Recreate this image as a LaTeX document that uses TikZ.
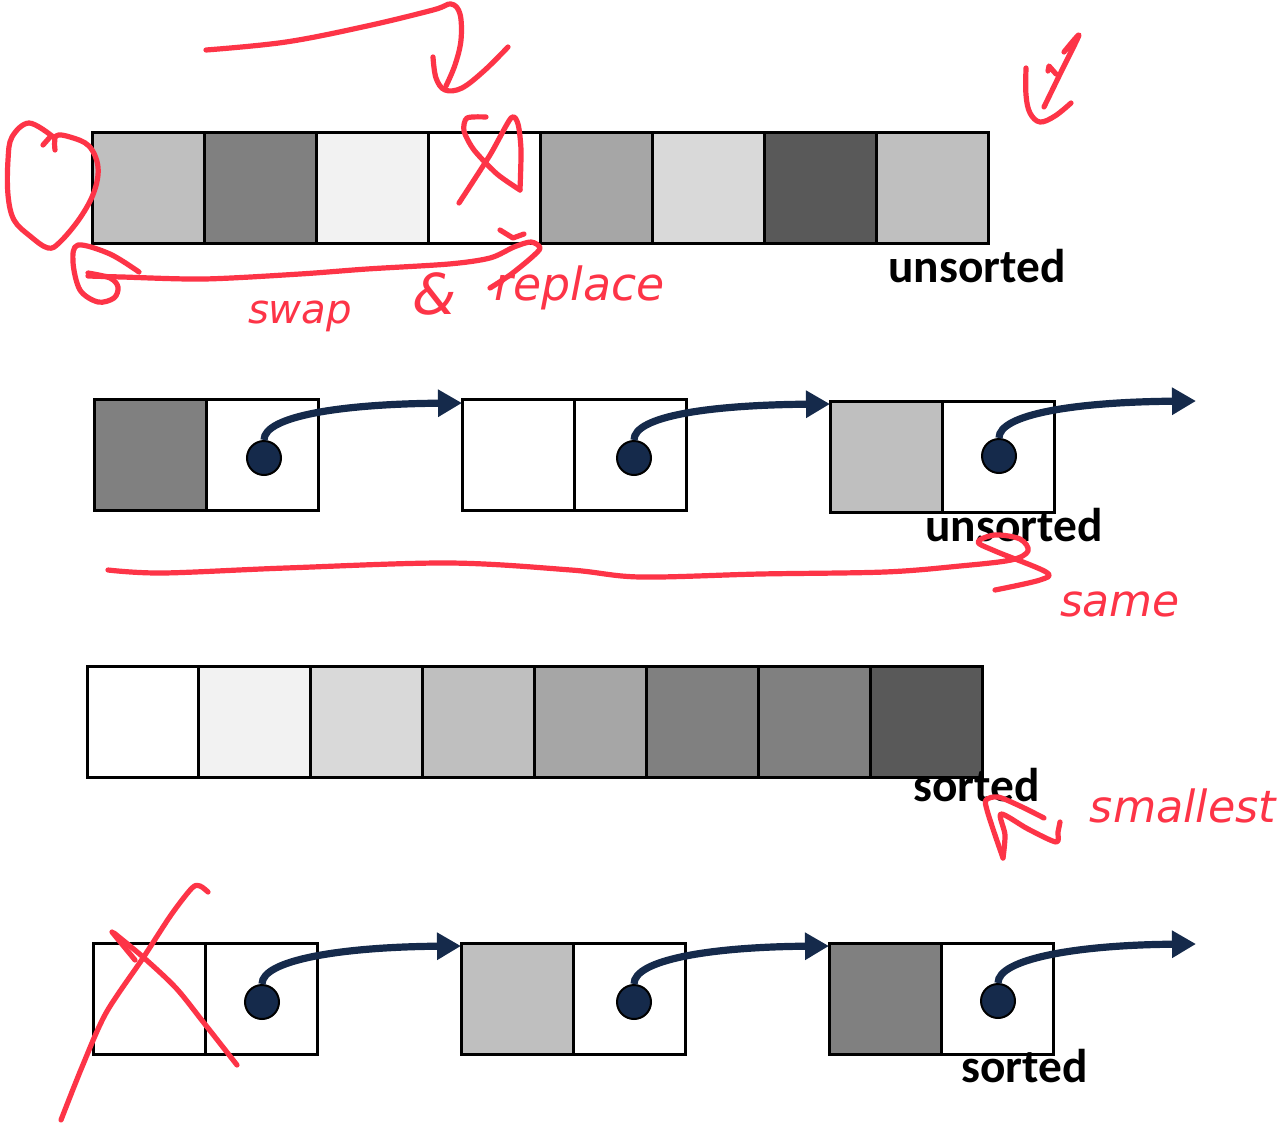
\documentclass[tikz,border=0pt]{standalone}
\usepackage{fontspec}
\setmainfont{Carlito}
\newfontfamily\handfont{DejaVu Sans}
\usetikzlibrary{calc,arrows.meta}

\definecolor{inkred}{HTML}{FD3447}
\definecolor{navy}{HTML}{152A4B}
\definecolor{gBF}{HTML}{BFBFBF}
\definecolor{g80}{HTML}{808080}
\definecolor{gF2}{HTML}{F2F2F2}
\definecolor{gA6}{HTML}{A6A6A6}
\definecolor{gD9}{HTML}{D9D9D9}
\definecolor{g59}{HTML}{595959}

\tikzset{
  cell/.style={draw=black, line width=1.5pt, minimum width=56pt, minimum height=55.5pt,
    inner sep=0pt, outer sep=0pt, anchor=north west},
  dot/.style={circle, fill=navy, draw=black, line width=1pt, minimum size=17pt, inner sep=0pt},
  ptr/.style={draw=navy, line width=3.6pt, -{Triangle[length=12pt,width=13pt]}},
  lbl/.style={font=\fontsize{23.7}{28}\selectfont\bfseries, inner sep=0pt, anchor=base west},
  ink/.style={draw=inkred, line width=2.6pt, line cap=round, line join=round},
  hand/.style={text=inkred, font=\handfont\itshape, inner sep=0pt},
}

\begin{document}
\begin{tikzpicture}[x=0.5pt,y=-0.5pt]
\path[use as bounding box, fill=white] (0,0) rectangle (1281,1125);

% ---- row 1: unsorted array ----
\foreach \c [count=\i] in {gBF,g80,gF2,white,gA6,gD9,g59,gBF}
  \node[cell,fill=\c] (u\i) at ({92+112*(\i-1)},132) {};
\node[lbl] (lu) at (888,282) {unsorted};

% ---- row 2: unsorted linked list ----
\node[cell,fill=g80] (p1a) at (94,399) {};
\node[cell] (p1b) at (p1a.north east) {};
\node[cell,fill=white] (p2a) at (462,399) {};
\node[cell] (p2b) at (p2a.north east) {};
\node[cell,fill=gBF] (p3a) at (830,401) {};
\node[cell] (p3b) at (p3a.north east) {};
\coordinate (p4) at (1196,401);
\node[dot] (p1d) at (264,458) {};
\node[dot] (p2d) at (634,458) {};
\node[dot] (p3d) at (999,456) {};
\draw[ptr] (p1d.north) .. controls +(0,-24) and +(-120,1) .. ($(p2a.north west)+(0,4)$);
\draw[ptr] (p2d.north) .. controls +(0,-24) and +(-120,1) .. ($(p3a.north west)+(0,3)$);
\draw[ptr] (p3d.north) .. controls +(0,-24) and +(-120,1) .. (p4);
\node[lbl] (lpu) at (925,541) {unsorted};

% ---- row 3: sorted array ----
\foreach \c [count=\i] in {white,gF2,gD9,gBF,gA6,g80,g80,g59}
  \node[cell,fill=\c] (s\i) at ({87+111.9*(\i-1)},666) {};
\node[lbl] (ls) at (913,801) {sorted};

% ---- row 4: sorted linked list ----
\node[cell,fill=white] (q1a) at (93,943) {};
\node[cell] (q1b) at (q1a.north east) {};
\node[cell,fill=gBF] (q2a) at (461,943) {};
\node[cell] (q2b) at (q2a.north east) {};
\node[cell,fill=g80] (q3a) at (829,943) {};
\node[cell] (q3b) at (q3a.north east) {};
\coordinate (q4) at (1196,944);
\node[dot] (q1d) at (262,1002) {};
\node[dot] (q2d) at (634,1002) {};
\node[dot] (q3d) at (998,1001) {};
\draw[ptr] (q1d.north) .. controls +(0,-24) and +(-120,1) .. ($(q2a.north west)+(0,3)$);
\draw[ptr] (q2d.north) .. controls +(0,-24) and +(-120,1) .. ($(q3a.north west)+(0,3)$);
\draw[ptr] (q3d.north) .. controls +(0,-24) and +(-120,1) .. (q4);
\node[lbl] (lqs) at (961,1082) {sorted};

% ---- red pen notes ----
% arrow over the first row
\draw[ink] plot[smooth,tension=0.6] coordinates {(206,50) (286,42) (367,26) (433,10) (451,4) (460,14) (461,40) (455,65) (446,86)};
\draw[ink] plot[smooth,tension=0.6] coordinates {(433,57) (436,78) (445,90) (462,88) (485,70) (508,47)};
% loop round the first cell
\draw[ink] plot[smooth,tension=0.6] coordinates {(55,150) (56,136) (70,137) (89,146) (98,167) (94,192) (80,218) (60,242) (48,248) (30,236) (14,220) (8,195) (8,160) (12,137) (29,123) (52,136)};
\draw[ink] (43,145) -- (51,136);
% cross on the fourth cell
\draw[ink] plot[smooth,tension=0.45] coordinates {(486,117) (467,118) (464,131) (474,150) (497,174) (520,190)};
\draw[ink] plot[smooth,tension=0.45] coordinates {(520,190) (521,150) (518,124) (511,118) (490,155) (459,203)};
% swap arrow under the first row
\draw[ink] plot[smooth,tension=0.55] coordinates {(139,272) (110,254) (78,245) (73,262) (80,290) (98,302) (114,298) (118,287) (110,278) (88,273)};
\draw[ink] plot[smooth,tension=0.5] coordinates {(88,276) (122,277) (204,279) (300,274) (367,269) (449,264) (490,258) (514,247) (531,242) (540,248) (531,258) (510,275) (490,288)};
\draw[ink] (500,230) -- (513,238) -- (524,234);
\node[hand] (wswap) at (300,316) {\resizebox{52pt}{!}{swap}};
\node[hand] (wamp) at (434,294) {\resizebox{22pt}{!}{\&}};
\node[hand] (wrepl) at (580,288) {\resizebox{85pt}{!}{replace}};
% check mark at the top right
\draw[ink] plot[smooth,tension=0.6] coordinates {(1026,68) (1026,95) (1030,113) (1040,122) (1055,116) (1071,103)};
\draw[ink] plot[smooth,tension=0.4] coordinates {(1044,107) (1062,70) (1079,35) (1064,52)};
\draw[ink] (1048,71) -- (1049,66) -- (1056,74);
% underline of the second row
\draw[ink] plot[smooth,tension=0.55] coordinates {(108,570) (163,573) (286,568) (449,563) (571,570) (640,577) (760,574) (885,572) (960,566) (1011,560) (1028,551) (1020,539) (995,535) (978,542) (995,551) (1046,572) (1040,580) (995,590)};
\node[hand] (wsame) at (1120,604) {\resizebox{60pt}{!}{same}};
% arrow towards the last sorted cell
\draw[ink] plot[smooth,tension=0.5] coordinates {(1003,858) (994,832) (987,810) (986,800) (998,797) (1020,806) (1044,818)};
\draw[ink] plot[smooth,tension=0.5] coordinates {(1003,858) (1005,835) (1001,814) (1028,829) (1056,842) (1058,832) (1060,822)};
\node[hand] (wsmall) at (1183,806) {\resizebox{93pt}{!}{smallest}};
% cross on the first node of the last row
\draw[ink] plot[smooth,tension=0.5] coordinates {(61,1120) (82,1067) (106,1013) (143,958) (171,915) (192,888) (200,886) (208,892)};
\draw[ink] (112,932) -- (135,960);
\draw[ink] plot[smooth,tension=0.5] coordinates {(114,933) (143,957) (176,988) (204,1023) (237,1065)};
\end{tikzpicture}
\end{document}
